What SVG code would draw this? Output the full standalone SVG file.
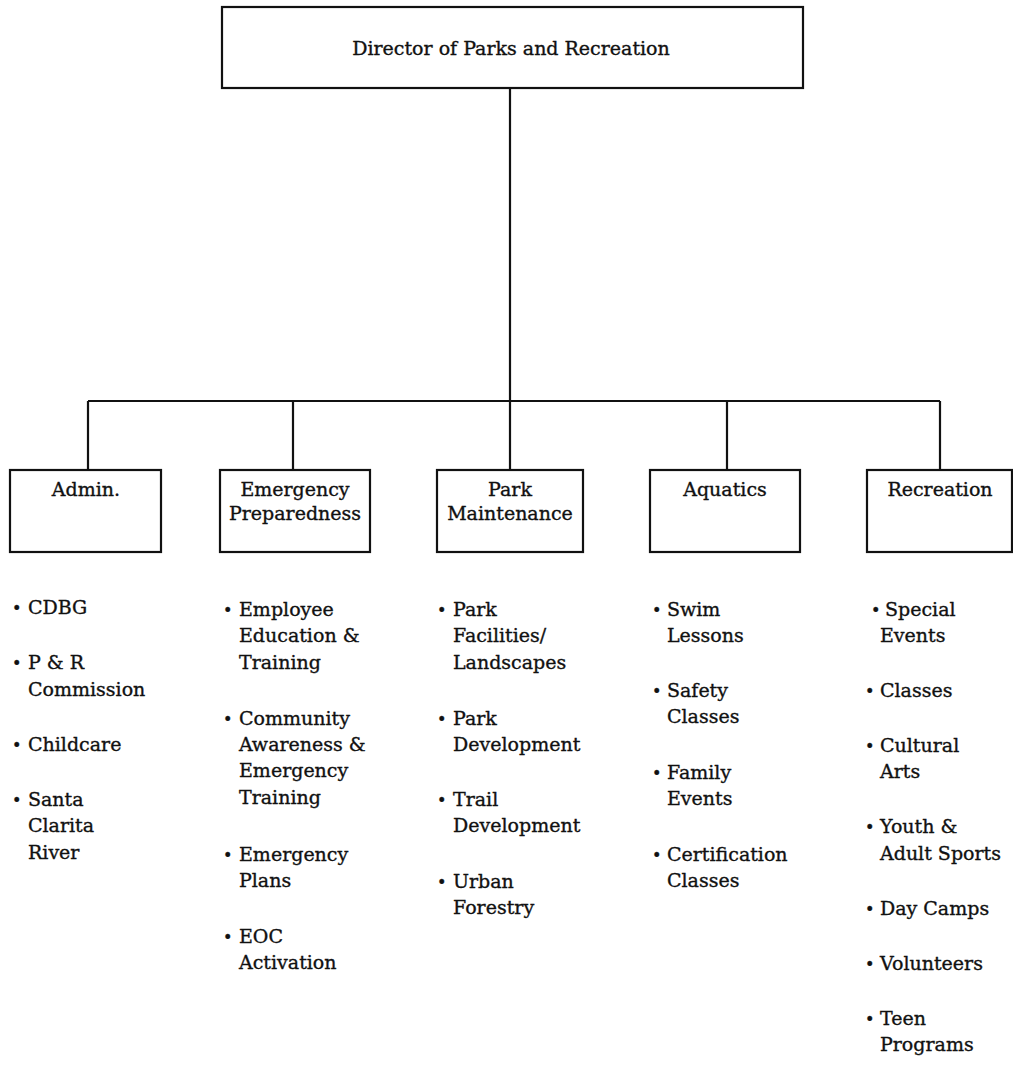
<svg xmlns="http://www.w3.org/2000/svg" width="1013" height="1091" viewBox="0 0 1013 1091">
<style>
text{font-family:"DejaVu Serif","Liberation Serif",serif;font-size:19px;fill:#111;stroke:#111;stroke-width:0.35}
.c{text-anchor:middle}
.b{font-size:16px}
.box{fill:#fff;stroke:#111;stroke-width:2.2}
.ln{stroke:#111;stroke-width:2.2;fill:none}
</style>
<rect width="1013" height="1091" fill="#fff"/>
<g id="connectors">
<path class="ln" d="M510,88V401M88,401H940M88,401V470M293,401V470M510,401V470M727,401V470M940,401V470"/>
</g>
<g id="director">
<rect class="box" x="222" y="7" width="581" height="81"/>
<text class="c" x="511" y="55">Director of Parks and Recreation</text>
</g>
<g id="admin">
<rect class="box" x="10" y="470" width="151" height="82"/>
<text class="c" x="86" y="496">Admin.</text>
</g>
<g id="emergency">
<rect class="box" x="220" y="470" width="150" height="82"/>
<text class="c" x="295" y="496">Emergency</text>
<text class="c" x="295" y="520">Preparedness</text>
</g>
<g id="park">
<rect class="box" x="437" y="470" width="146" height="82"/>
<text class="c" x="510" y="496">Park</text>
<text class="c" x="510" y="520">Maintenance</text>
</g>
<g id="aquatics">
<rect class="box" x="650" y="470" width="150" height="82"/>
<text class="c" x="725" y="496">Aquatics</text>
</g>
<g id="recreation">
<rect class="box" x="867" y="470" width="145" height="82"/>
<text class="c" x="940" y="496">Recreation</text>
</g>
<g id="admin-items">
<text class="b" x="12" y="614">•</text><text x="28" y="614">CDBG</text>
<text class="b" x="12" y="669">•</text><text x="28" y="669">P &amp; R</text><text x="28" y="696">Commission</text>
<text class="b" x="12" y="751">•</text><text x="28" y="751">Childcare</text>
<text class="b" x="12" y="806">•</text><text x="28" y="806">Santa</text><text x="28" y="832">Clarita</text><text x="28" y="859">River</text>
</g>
<g id="emergency-items">
<text class="b" x="223" y="616">•</text><text x="239" y="616">Employee</text><text x="239" y="642">Education &amp;</text><text x="239" y="669">Training</text>
<text class="b" x="223" y="725">•</text><text x="239" y="725">Community</text><text x="239" y="751">Awareness &amp;</text><text x="239" y="777">Emergency</text><text x="239" y="804">Training</text>
<text class="b" x="223" y="861">•</text><text x="239" y="861">Emergency</text><text x="239" y="887">Plans</text>
<text class="b" x="223" y="943">•</text><text x="239" y="943">EOC</text><text x="239" y="969">Activation</text>
</g>
<g id="park-items">
<text class="b" x="437" y="616">•</text><text x="453" y="616">Park</text><text x="453" y="642">Facilities/</text><text x="453" y="669">Landscapes</text>
<text class="b" x="437" y="725">•</text><text x="453" y="725">Park</text><text x="453" y="751">Development</text>
<text class="b" x="437" y="806">•</text><text x="453" y="806">Trail</text><text x="453" y="832">Development</text>
<text class="b" x="437" y="888">•</text><text x="453" y="888">Urban</text><text x="453" y="914">Forestry</text>
</g>
<g id="aquatics-items">
<text class="b" x="652" y="616">•</text><text x="667" y="616">Swim</text><text x="667" y="642">Lessons</text>
<text class="b" x="652" y="697">•</text><text x="667" y="697">Safety</text><text x="667" y="723">Classes</text>
<text class="b" x="652" y="779">•</text><text x="667" y="779">Family</text><text x="667" y="805">Events</text>
<text class="b" x="652" y="861">•</text><text x="667" y="861">Certification</text><text x="667" y="887">Classes</text>
</g>
<g id="recreation-items">
<text class="b" x="871" y="616">•</text><text x="885" y="616">Special</text><text x="880" y="642">Events</text>
<text class="b" x="865" y="697">•</text><text x="880" y="697">Classes</text>
<text class="b" x="865" y="752">•</text><text x="880" y="752">Cultural</text><text x="880" y="778">Arts</text>
<text class="b" x="865" y="833">•</text><text x="880" y="833">Youth &amp;</text><text x="880" y="860">Adult Sports</text>
<text class="b" x="865" y="915">•</text><text x="880" y="915">Day Camps</text>
<text class="b" x="865" y="970">•</text><text x="880" y="970">Volunteers</text>
<text class="b" x="865" y="1025">•</text><text x="880" y="1025">Teen</text><text x="880" y="1051">Programs</text>
</g>
</svg>
